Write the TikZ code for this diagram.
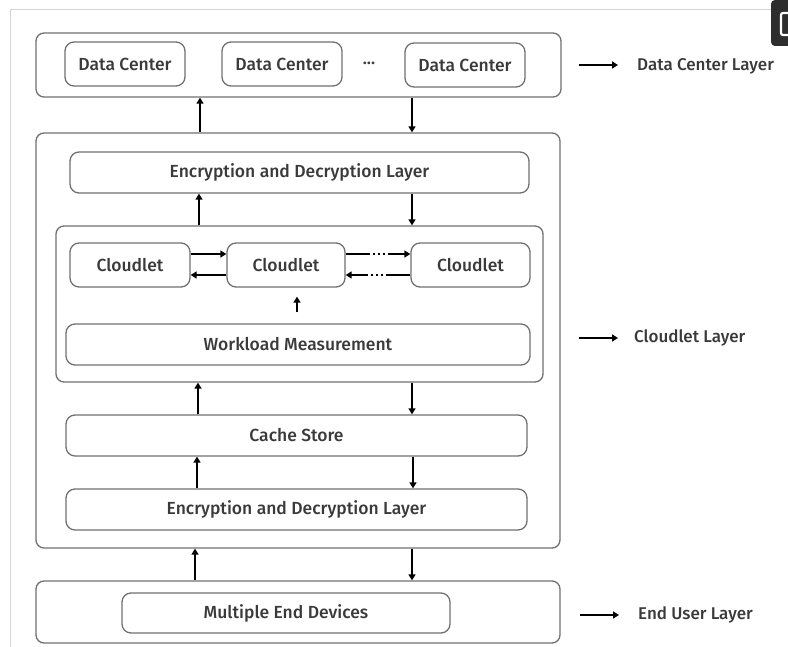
\documentclass[tikz,border=0pt]{standalone}
\usepackage{fontspec}
\setmainfont{Fira Sans}[UprightFont=* Medium]
\usetikzlibrary{arrows.meta}
\definecolor{boxgray}{HTML}{707070}
\definecolor{txtgray}{HTML}{3A3A3A}
\definecolor{framegray}{HTML}{D4D4D4}
\definecolor{icondark}{HTML}{2E2E2E}
\tikzset{
  box/.style={draw=boxgray, line width=1.3pt, rounded corners=9pt, inner sep=0pt, text=txtgray, font=\fontsize{17.5}{20}\selectfont},
  bigbox/.style={draw=boxgray, line width=1.3pt, rounded corners=8pt, inner sep=0pt},
  arr/.style={draw=black, line width=1.8pt, -{Triangle[length=6pt,width=7pt]}},
  layerlabel/.style={anchor=west, inner sep=0pt, text=txtgray, font=\fontsize{17}{20}\selectfont},
  dotted arr/.style={arr, dash pattern=on 24pt off 3pt on 2pt off 3pt on 2pt off 3pt on 2pt off 3pt on 60pt}
}
\begin{document}
\begin{tikzpicture}[x=1pt,y=-1pt]
\useasboundingbox (0,0) rectangle (788,647);
% screenshot frame and corner icon
\draw[framegray, line width=1pt] (10,647) -- (10,10) -- (771,10);
\fill[icondark, rounded corners=4pt] (771,0) rectangle (800,46);
\draw[white, line width=2.2pt, rounded corners=2pt] (795,13) -- (781,13) -- (781,35) -- (795,35);

% Data center layer
\node[bigbox, minimum width=525pt, minimum height=64pt] (dcl) at (298.5,65) {};
\node[box, minimum width=120pt, minimum height=44pt] (dc1) at (125,64) {Data Center};
\node[box, minimum width=120pt, minimum height=44pt] (dc2) at (282,64) {Data Center};
\node[text=txtgray, font=\fontsize{17}{20}\selectfont, inner sep=0pt] (dcdots) at (369,63) {...};
\node[box, minimum width=120pt, minimum height=44pt] (dc3) at (465,65) {Data Center};

% Cloudlet layer
\node[bigbox, minimum width=524pt, minimum height=415pt] (cll) at (298,340.5) {};
\node[box, minimum width=459pt, minimum height=41pt] (enc1) at (299.5,172.5) {Encryption and Decryption Layer};
\node[bigbox, minimum width=487pt, minimum height=156pt] (cont) at (299.5,304) {};
\node[box, minimum width=120pt, minimum height=44pt] (c1) at (130,265) {Cloudlet};
\node[box, minimum width=118pt, minimum height=44pt] (c2) at (286,265) {Cloudlet};
\node[box, minimum width=119pt, minimum height=44pt] (c3) at (470.5,265) {Cloudlet};
\node[box, minimum width=464pt, minimum height=41pt] (wm) at (298,344.5) {Workload Measurement};
\node[box, minimum width=461pt, minimum height=41pt] (cache) at (296.5,435.5) {Cache Store};
\node[box, minimum width=461pt, minimum height=41pt] (enc2) at (296.5,509.5) {Encryption and Decryption Layer};

% End user layer
\node[bigbox, minimum width=524pt, minimum height=62pt] (eul) at (298,612) {};
\node[box, minimum width=328pt, minimum height=40pt] (med) at (286,613) {Multiple End Devices};

% layer labels
\node[layerlabel] (lbl1) at (637,66) {Data Center Layer};
\node[layerlabel] (lbl2) at (634,338) {Cloudlet Layer};
\node[layerlabel] (lbl3) at (638,615) {End User Layer};
\coordinate (s1) at (579,65);
\coordinate (s2) at (579,338);
\coordinate (s3) at (580,615);
\draw[arr] (s1) -- ++(39,0);
\draw[arr] (s2) -- ++(39,0);
\draw[arr] (s3) -- ++(39,0);

% vertical connectors
\coordinate (u1) at (200,0); \coordinate (d1) at (412,0);
\draw[arr] (cll.north -| u1) -- (dcl.south -| u1);
\draw[arr] (dcl.south -| d1) -- (cll.north -| d1);
\coordinate (u2) at (199,0); \coordinate (d2) at (412,0);
\draw[arr] (cont.north -| u2) -- (enc1.south -| u2);
\draw[arr] (enc1.south -| d2) -- (cont.north -| d2);
\coordinate (u3) at (198,0); \coordinate (d3) at (412,0);
\draw[arr] (cache.north -| u3) -- (cont.south -| u3);
\draw[arr] (cont.south -| d3) -- (cache.north -| d3);
\coordinate (u4) at (197,0); \coordinate (d4) at (413,0);
\draw[arr] (enc2.north -| u4) -- (cache.south -| u4);
\draw[arr] (cache.south -| d4) -- (enc2.north -| d4);
\coordinate (u5) at (195,0); \coordinate (d5) at (412,0);
\draw[arr] (eul.north -| u5) -- (cll.south -| u5);
\draw[arr] (cll.south -| d5) -- (eul.north -| d5);

% cloudlet connectors
\draw[arr] ([yshift=11pt]c1.east) -- ([yshift=11pt]c2.west);
\draw[arr] ([yshift=-10pt]c2.west) -- ([yshift=-10pt]c1.east);
\draw[dotted arr] ([yshift=11pt]c2.east) -- ([yshift=11pt]c3.west);
\draw[dotted arr] ([yshift=-10pt]c3.west) -- ([yshift=-10pt]c2.east);
\coordinate (wx) at (297,0);
\draw[arr, shorten <=11pt, shorten >=9pt] (wm.north -| wx) -- (c2.south -| wx);
\end{tikzpicture}
\end{document}
